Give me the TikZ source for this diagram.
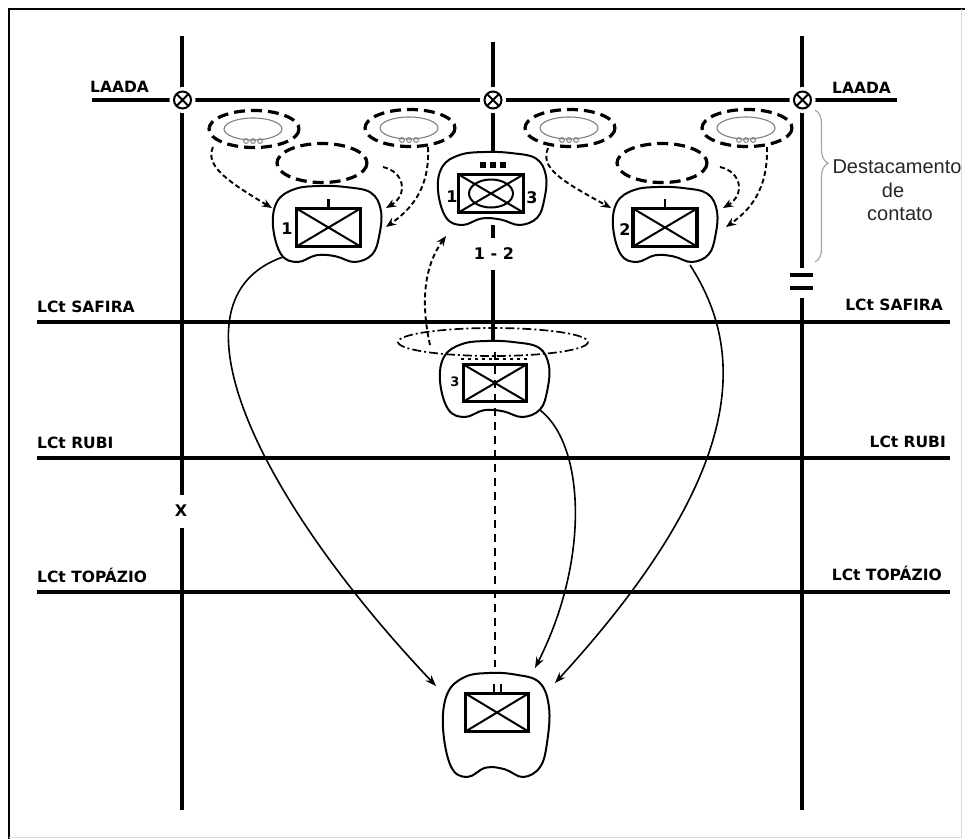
\documentclass[tikz,border=0pt]{standalone}
\usepackage{fontspec}
\setmainfont{Liberation Sans}
\newfontfamily\labfont{DejaVu Sans}
\usetikzlibrary{arrows.meta,decorations.pathreplacing}

\newcommand\unitblob[4]{%
 \draw[blobline] plot[smooth cycle, tension=0.65] coordinates {
 ({#1-1.00*#3},{#2+0.05*#4})
 ({#1-0.92*#3},{#2-0.60*#4})
 ({#1-0.60*#3},{#2-0.92*#4})
 ({#1-0.15*#3},{#2-1.00*#4})
 ({#1+0.35*#3},{#2-0.97*#4})
 ({#1+0.80*#3},{#2-0.82*#4})
 ({#1+0.98*#3},{#2-0.35*#4})
 ({#1+0.95*#3},{#2+0.30*#4})
 ({#1+0.82*#3},{#2+0.80*#4})
 ({#1+0.50*#3},{#2+1.00*#4})
 ({#1+0.15*#3},{#2+0.85*#4})
 ({#1-0.20*#3},{#2+0.82*#4})
 ({#1-0.55*#3},{#2+1.00*#4})
 ({#1-0.85*#3},{#2+0.80*#4})
 };}

\newcommand\contactpair[2]{%
 \draw[cdash] (#1,#2) ellipse [x radius=45, y radius=18.5];
 \draw[thinell] (#1-1,#2) ellipse [x radius=29, y radius=11];
 \foreach \dx in {-7,0,7} \draw[line width=1pt, gray] (#1-1+\dx,#2+12) circle [radius=2.4];
}

\begin{document}
\begin{tikzpicture}[x=1pt,y=-1pt,
  mainline/.style={line width=3.2pt},
  lcttext/.style={font=\labfont\bfseries\fontsize{15.5}{18}\selectfont, inner sep=0pt},
  unitnum/.style={font=\labfont\bfseries\fontsize{16}{18}\selectfont, inner sep=0pt},
  blobline/.style={line width=2pt},
  unitbox/.style={rectangle, draw, line width=3.6pt, minimum width=64pt, minimum height=38pt, inner sep=0pt,
     path picture={\draw[line width=2pt] (path picture bounding box.north west) -- (path picture bounding box.south east)
       (path picture bounding box.north east) -- (path picture bounding box.south west);}},
  xsym/.style={circle, minimum size=17pt, inner sep=0pt, fill=white, preaction={draw=white, line width=9pt},
     draw, line width=2pt,
     path picture={\draw[line width=1.8pt] (path picture bounding box.north west) -- (path picture bounding box.south east)
       (path picture bounding box.north east) -- (path picture bounding box.south west);}},
  cdash/.style={line width=3.2pt, dash pattern=on 11pt off 6pt},
  thinell/.style={line width=1.1pt, gray},
  darrow/.style={line width=1.9pt, dash pattern=on 5pt off 3pt, -{Stealth[length=10pt,width=8pt]}},
  sarrow/.style={line width=1.6pt, -{Stealth[length=11pt,width=8pt]}},
  desttext/.style={font=\fontsize{20}{24}\selectfont, text=black!85, inner sep=0pt}
]
\useasboundingbox (0,0) rectangle (965,839);

% border
\draw[line width=2.8pt] (9,839) -- (9,9) -- (965,9);
\draw[gray!30, line width=1pt] (961,9) -- (961,837) -- (9,837);

% phase lines
\draw[mainline] (92,100) -- (897,100);
\draw[mainline] (37,322) -- (950,322);
\draw[mainline] (37,458) -- (950,458);
\draw[mainline] (37,592) -- (950,592);

% vertical boundaries
\draw[mainline] (182,36) -- (182,495);
\draw[mainline] (182,528) -- (182,810);
\draw[mainline] (802,36) -- (802,268);
\draw[mainline] (802,298) -- (802,810);
\draw[mainline] (790,275) -- (813,275);
\draw[mainline] (790,288) -- (813,288);
\draw[mainline] (493,42) -- (493,152);
\draw[mainline] (493,225) -- (493,238);
\draw[mainline] (493,270) -- (493,341);

% coordination points
\node[xsym] (xl) at (182.5,100) {};
\node[xsym] (xc) at (493,100) {};
\node[xsym] (xr) at (802.5,100) {};

% labels
\node[lcttext, anchor=base west] (laadal) at (90,92) {LAADA};
\node[lcttext, anchor=base west] (laadar) at (832,93) {LAADA};
\node[lcttext, anchor=base west] (safl) at (37,312) {LCt SAFIRA};
\node[lcttext, anchor=base east] (safr) at (943,310) {LCt SAFIRA};
\node[lcttext, anchor=base west] (rubl) at (37,448) {LCt RUBI};
\node[lcttext, anchor=base east] (rubr) at (946,447) {LCt RUBI};
\node[lcttext, anchor=base west] (topl) at (37,582) {LCt TOPÁZIO};
\node[lcttext, anchor=base east] (topr) at (942,580) {LCt TOPÁZIO};
\node[unitnum] (xlab) at (181,511) {X};
\node[unitnum] (onetwo) at (494,254) {1 - 2};

% contact detachment
\draw[gray!70, line width=1.2pt, decorate, decoration={brace, amplitude=13pt, aspect=0.35}] (815,110) -- (815,262);
\node[desttext, anchor=base] (d1) at (897,173) {Destacamento};
\node[desttext, anchor=base] (d2) at (893,197) {de};
\node[desttext, anchor=base] (d3) at (900,220) {contato};

% contact ellipses
\contactpair{254}{129}
\contactpair{410}{128}
\contactpair{570}{128}
\contactpair{747}{128}
\draw[cdash] (322,163) ellipse [x radius=45, y radius=19.5];
\draw[cdash] (662,163) ellipse [x radius=45, y radius=19.5];

% unit 1
\unitblob{327.5}{224}{54.5}{38}
\node[unitbox] (u1) at (328.5,227.5) {};
\draw[line width=2.4pt] (u1.north) -- ++(0,-8);
\node[unitnum] (u1n) at (287,229) {1};

% unit 2
\unitblob{665.5}{224.5}{52.5}{37.5}
\node[unitbox] (u2) at (665,227.5) {};
\draw[line width=2.4pt] (u2.north) -- ++(0,-8);
\node[unitnum] (u2n) at (625,230) {2};

% top center unit
\unitblob{492.5}{188.5}{54.5}{36.5}
\node[unitbox, minimum width=65pt] (tc) at (491,193.5) {};
\draw[line width=2pt] (tc.center) ellipse [x radius=22, y radius=14];
\foreach \sx in {479.5,489.5,499.5} \fill (\sx,162) rectangle +(6,6);
\node[unitnum] (tcn1) at (452,197) {1};
\node[unitnum] (tcn3) at (532,198) {3};

% unit 3
\unitblob{495}{379}{55}{38}
\node[unitbox, minimum width=63pt, minimum height=37pt] (u3) at (495,383) {};
\draw[line width=2.2pt, dash pattern=on 3pt off 4pt] (461,359) -- (529,359);
\node[unitnum, font=\labfont\bfseries\fontsize{13}{15}\selectfont] (u3n) at (455,382) {3};
\draw[line width=1.7pt, dash pattern=on 9pt off 3pt on 2pt off 3pt] (493,342) ellipse [x radius=95, y radius=14];

% bottom unit
\unitblob{496.5}{725}{53.5}{52}
\node[unitbox, minimum width=63pt] (ub) at (497,712.5) {};
\draw[line width=2.2pt] (494,692) -- (494,684) (501,692) -- (501,684);

% centre dashed axis
\coordinate (axa) at (495,352);
\coordinate (axb) at (495,667);
\draw[line width=2.2pt, dash pattern=on 8pt off 6pt] (axa) -- (axb);

% dashed arrows
\coordinate (a1s) at (213,147); \coordinate (a1e) at (272,208);
\coordinate (a2s) at (383,167); \coordinate (a2e) at (386,208);
\coordinate (a3s) at (428,147); \coordinate (a3e) at (386,227);
\coordinate (b1s) at (548,148); \coordinate (b1e) at (611,208);
\coordinate (b2s) at (720,167); \coordinate (b2e) at (723,208);
\coordinate (b3s) at (767,147); \coordinate (b3e) at (726,227);
\coordinate (cs) at (430,345); \coordinate (ce) at (446,236);
\draw[darrow] (a1s) .. controls (205,165) and (225,180) .. (a1e);
\draw[darrow] (a2s) .. controls (405,172) and (408,195) .. (a2e);
\draw[darrow] (a3s) .. controls (430,190) and (410,210) .. (a3e);
\draw[darrow] (b1s) .. controls (540,168) and (560,180) .. (b1e);
\draw[darrow] (b2s) .. controls (742,172) and (745,195) .. (b2e);
\draw[darrow] (b3s) .. controls (768,190) and (750,210) .. (b3e);
\draw[darrow] (cs) .. controls (420,300) and (425,265) .. (ce);

% solid arrows
\coordinate (s1s) at (283,257); \coordinate (s1e) at (436,686);
\coordinate (s2s) at (540,410); \coordinate (s2e) at (535,668);
\coordinate (s3s) at (690,265); \coordinate (s3e) at (555,683);
\draw[sarrow] (s1s) .. controls (160,300) and (260,500) .. (s1e);
\draw[sarrow] (s2s) .. controls (585,445) and (590,560) .. (s2e);
\draw[sarrow] (s3s) .. controls (745,350) and (750,470) .. (s3e);
\end{tikzpicture}
\end{document}
